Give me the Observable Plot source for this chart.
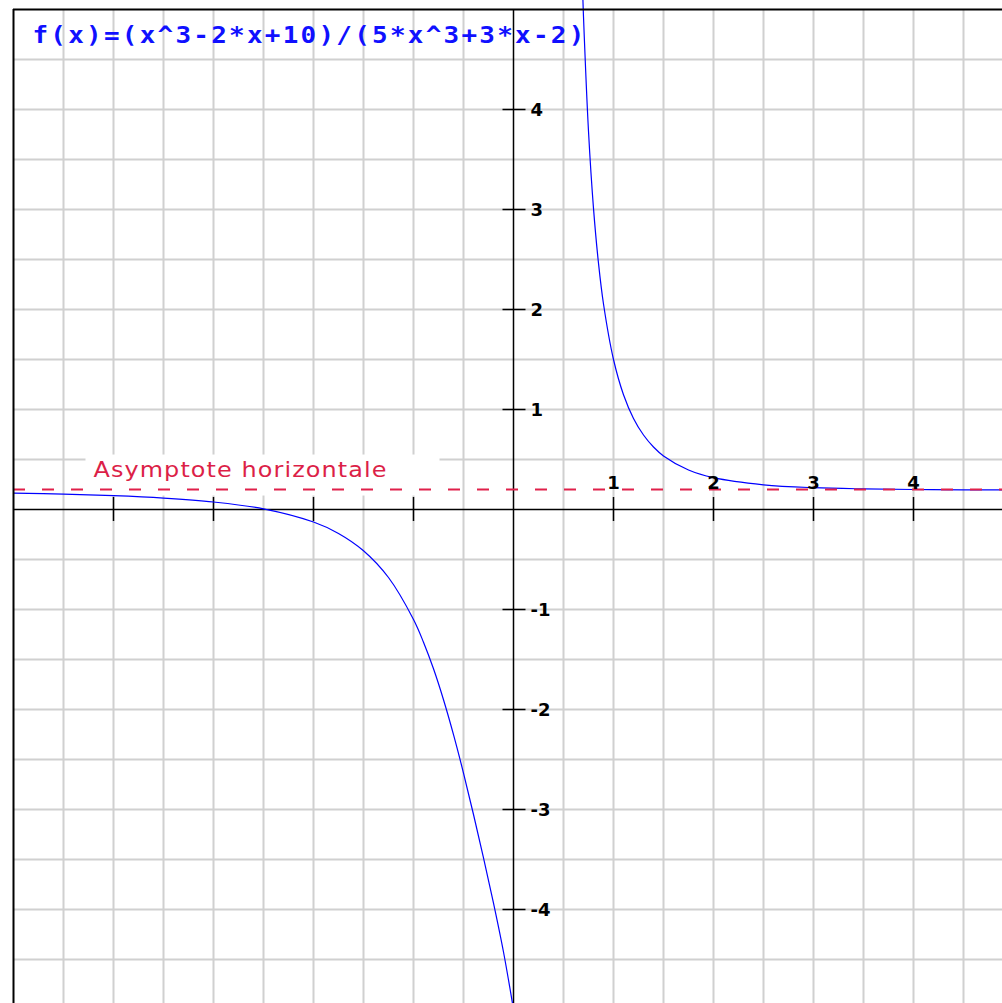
<!DOCTYPE html>
<html><head><meta charset="utf-8">
<script src="https://cdn.jsdelivr.net/npm/d3@7"></script>
<script src="https://cdn.jsdelivr.net/npm/@observablehq/plot@0.6"></script>
<style>html,body{margin:0;padding:0;background:#fff;} #chart svg{display:block;}</style>
</head><body><div id="chart"></div>
<script>
// ---- data ----
const titleText = "f(x)=(x^3-2*x+10)/(5*x^3+3*x-2)";
const asymptoteLabel = "Asymptote horizontale";
const asymptoteY = 0.2;

// left branch of the curve (x < vertical asymptote)
const leftX = [-5, -4.5, -4, -3.5, -3, -2.5, -2, -1.75, -1.5, -1.25, -1, -0.9, -0.8, -0.7, -0.6, -0.5, -0.4, -0.3, -0.2, -0.1, 0];
const leftY = [0.164, 0.153, 0.138, 0.114, 0.075, 0.007, -0.125, -0.239, -0.412, -0.680, -1.10, -1.327, -1.593, -1.902, -2.251, -2.636, -3.050, -3.484, -3.936, -4.425, -5.0];

// right branch of the curve
const rightX = [0.69, 0.7, 0.75, 0.8, 0.85, 0.9, 1.0, 1.1, 1.2, 1.3, 1.4, 1.5, 1.75, 2.0, 2.5, 3.0, 3.5, 4.0, 4.5, 4.89];
const rightY = [5.225, 4.927, 3.782, 3.011, 2.462, 2.055, 1.50, 1.148, 0.911, 0.745, 0.625, 0.536, 0.395, 0.318, 0.247, 0.218, 0.206, 0.200, 0.197, 0.196];

const xTicks = [-4, -3, -2, -1, 1, 2, 3, 4];
const xLabelValues = [1, 2, 3, 4];
const xLabelTexts = ["1", "2", "3", "4"];
const yTicks = [-4, -3, -2, -1, 1, 2, 3, 4];
const yLabelTexts = ["-4", "-3", "-2", "-1", "1", "2", "3", "4"];
const gridValues = [-4.5, -4, -3.5, -3, -2.5, -2, -1.5, -1, -0.5, 0.5, 1, 1.5, 2, 2.5, 3, 3.5, 4, 4.5];

// view window
const xMin = -5.13, xMax = 4.89, yMin = -4.94, yMax = 5.09;
const frameLeft = -5, frameTop = 5;

const left = leftX.map((x, i) => ({x, y: leftY[i]}));
const right = rightX.map((x, i) => ({x, y: rightY[i]}));
const font = "DejaVu Sans";

const plot = Plot.plot({
  width: 1002, height: 1003,
  marginLeft: 0, marginRight: 0, marginTop: 0, marginBottom: 0,
  x: {domain: [xMin, xMax], axis: null},
  y: {domain: [yMin, yMax], axis: null},
  style: {background: "white", fontFamily: font},
  marks: [
    // grid
    Plot.ruleX(gridValues, {y1: yMin, y2: frameTop, stroke: "#d0d0d0", strokeWidth: 2}),
    Plot.ruleY(gridValues, {x1: frameLeft, x2: xMax, stroke: "#d0d0d0", strokeWidth: 2}),
    // axes
    Plot.ruleY([0], {x1: frameLeft, x2: xMax, stroke: "black", strokeWidth: 1.5}),
    Plot.ruleX([0], {y1: yMin, y2: frameTop, stroke: "black", strokeWidth: 1.5}),
    Plot.ruleX(xTicks, {y1: -0.12, y2: 0.12, stroke: "black", strokeWidth: 1.5}),
    Plot.ruleY(yTicks, {x1: -0.105, x2: 0.125, stroke: "black", strokeWidth: 1.5}),
    // curve
    Plot.line(left, {x: "x", y: "y", stroke: "#0000ff", strokeWidth: 1.2, curve: "catmull-rom", clip: true}),
    Plot.line(right, {x: "x", y: "y", stroke: "#0000ff", strokeWidth: 1.2, curve: "catmull-rom", clip: true}),
    // asymptote
    Plot.ruleY([asymptoteY], {x1: frameLeft, x2: xMax, stroke: "#e0204a", strokeWidth: 2, strokeDasharray: "12,17"}),
    // frame (top and left)
    Plot.ruleX([frameLeft], {y1: yMin, y2: frameTop, stroke: "black", strokeWidth: 2}),
    Plot.ruleY([frameTop], {x1: frameLeft, x2: xMax, stroke: "black", strokeWidth: 2}),
    // tick labels
    Plot.text(yTicks, {x: 0, y: d => d, text: (d, i) => yLabelTexts[i], dx: 17, dy: 1, textAnchor: "start", fontWeight: "bold", fontSize: 18, fill: "black"}),
    Plot.text(xLabelValues, {x: d => d, y: 0, text: (d, i) => xLabelTexts[i], dy: -26, textAnchor: "middle", fontWeight: "bold", fontSize: 18, fill: "black"}),
    // asymptote label
    Plot.text([asymptoteLabel], {x: frameLeft, y: asymptoteY, text: d => d, dx: 80, dy: -20, textAnchor: "start", fontSize: 22, fill: "#dc1f48"}),
    // title
    Plot.text([titleText], {x: frameLeft, y: frameTop, text: d => d, dx: 19, dy: 26, textAnchor: "start", fontSize: 23, fontWeight: "bold", fontFamily: "DejaVu Sans Mono", fill: "#1010ff"})
  ]
});

document.getElementById("chart").appendChild(plot);

// stretch the two labels to the widths seen in the picture and put a white box behind the asymptote label
d3.select(plot).selectAll("text").each(function() {
  const t = this.textContent;
  if (t === titleText) {
    this.style.letterSpacing = "2px";
    this.setAttribute("textLength", 554);
    this.setAttribute("lengthAdjust", "spacingAndGlyphs");
  } else if (t === asymptoteLabel) {
    this.style.letterSpacing = "1px";
    this.setAttribute("textLength", 294);
    this.setAttribute("lengthAdjust", "spacingAndGlyphs");
    const bb = this.getBBox();
    const ctm = this.getCTM();
    const root = plot.getCTM ? plot.getCTM() : null;
    const x0 = bb.x + (ctm ? ctm.e : 0) - (root ? root.e : 0);
    const y0 = bb.y + (ctm ? ctm.f : 0) - (root ? root.f : 0);
    const rect = document.createElementNS("http://www.w3.org/2000/svg", "rect");
    rect.setAttribute("x", x0 - 8);
    rect.setAttribute("y", y0 - 2);
    rect.setAttribute("width", bb.width + 60);
    rect.setAttribute("height", bb.height + 16);
    rect.setAttribute("fill", "white");
    // behind the axes and the curve, above the grid
    const groups = Array.from(plot.children).filter(n => n.tagName.toLowerCase() === "g");
    plot.insertBefore(rect, groups[2]);
  }
});
</script>
</body></html>
